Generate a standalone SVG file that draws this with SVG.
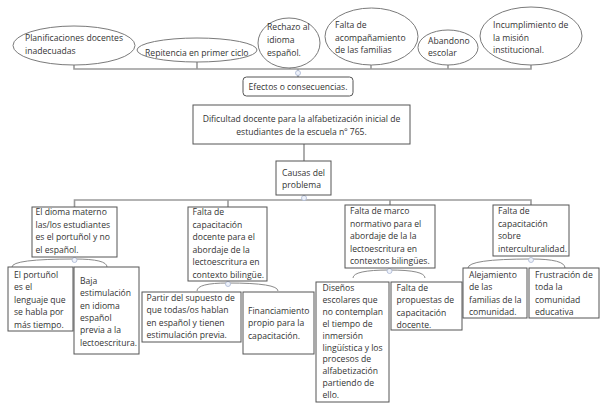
<svg xmlns="http://www.w3.org/2000/svg" width="608" height="411" viewBox="0 0 608 411">
<style>
text{font-family:"Open Sans","Noto Sans","Liberation Sans",sans-serif;font-size:8.6px;fill:#333}
.c{text-anchor:middle}
.ell{fill:#fff;stroke:#7a7a7a;stroke-width:1}
.box{fill:#fff;stroke:#555;stroke-width:1}
.bus{fill:none;stroke:#9a9a9a;stroke-width:1.6}
.cur{fill:none;stroke:#8a8a8a;stroke-width:1}
.dot{fill:#eef2fa;stroke:#aab6d3;stroke-width:0.8}
</style>
<rect width="608" height="411" fill="#fff"/>
<g id="connectors">
<path class="bus" d="M74,65 V69 H531 V65 M197,62 V69 M290,67 V69 M371,65 V69 M448,65 V69 M298,69 V77"/>
<path class="bus" d="M304,144 V161 M304,195 V200 M74.5,207 V200 H531 V205 M228,200 V207 M390,200 V205"/>
<path class="cur" d="M74.5,259 Q12,259 12,267 M74.5,259 Q107,259 107,267"/>
<path class="cur" d="M228,283 Q197,283 197,291 M228,283 Q278,283 278,291"/>
<path class="cur" d="M389.5,270 Q353,270 353,278 M389.5,270 Q425,270 425,278"/>
<path class="cur" d="M531,259 Q468,259 468,268 M531,259 Q565,259 565,268"/>
<circle class="dot" cx="298" cy="73" r="2.5"/>
<circle class="dot" cx="304" cy="198" r="2.5"/>
<circle class="dot" cx="74.5" cy="260" r="2.5"/>
<circle class="dot" cx="228" cy="284" r="2.5"/>
<circle class="dot" cx="389.5" cy="271" r="2.5"/>
<circle class="dot" cx="531" cy="260" r="2.5"/>
</g>
<g id="e1"><ellipse class="ell" cx="74" cy="45.5" rx="61" ry="19.5"/><text x="25" y="41">Planificaciones docentes</text><text x="25" y="53.5">inadecuadas</text></g>
<g id="e2"><ellipse class="ell" cx="197" cy="50" rx="60" ry="12"/><text x="145" y="55.5">Repitencia en primer ciclo</text></g>
<g id="e3"><ellipse class="ell" cx="289" cy="43" rx="31" ry="25"/><text x="267" y="30">Rechazo al</text><text x="267" y="42.5">idioma</text><text x="267" y="55.5">español.</text></g>
<g id="e4"><ellipse class="ell" cx="371.5" cy="36.5" rx="46.5" ry="28.5"/><text x="335" y="28">Falta de</text><text x="335" y="40.5">acompañamiento</text><text x="335" y="53">de las familias</text></g>
<g id="e5"><ellipse class="ell" cx="448" cy="47.5" rx="30" ry="17.5"/><text x="428" y="43.5">Abandono</text><text x="428" y="56">escolar</text></g>
<g id="e6"><ellipse class="ell" cx="531" cy="36" rx="51" ry="29"/><text x="493" y="28">Incumplimiento de</text><text x="493" y="40.5">la misión</text><text x="493" y="53">institucional.</text></g>
<g id="efectos"><rect class="box" x="243" y="77" width="110" height="19" rx="3.5"/><text class="c" x="298" y="89.5">Efectos o consecuencias.</text></g>
<g id="problema"><rect class="box" x="193" y="105" width="217" height="39"/><text class="c" x="301.5" y="121.5">Dificultad docente para la alfabetización inicial de</text><text class="c" x="301.5" y="134.5">estudiantes de la escuela nº 765.</text></g>
<g id="causas"><rect class="box" x="276" y="161" width="55" height="34"/><text x="282" y="175.5">Causas del</text><text x="282" y="188">problema</text></g>
<g id="c1"><rect class="box" x="32" y="207" width="85" height="50"/><text x="35.5" y="215">El dioma materno</text><text x="35.5" y="227.7">las/los estudiantes</text><text x="35.5" y="240.4">es el portuñol y no</text><text x="35.5" y="253">el español.</text></g>
<g id="c2"><rect class="box" x="188" y="207" width="79" height="74"/><text x="192.5" y="215">Falta de</text><text x="192.5" y="227.5">capacitación</text><text x="192.5" y="240">docente para el</text><text x="192.5" y="252.5">abordaje de la</text><text x="192.5" y="265">lectoescritura en</text><text x="192.5" y="277.5">contexto bilingüe.</text></g>
<g id="c3"><rect class="box" x="345" y="205" width="90" height="63"/><text x="350" y="214">Falta de marco</text><text x="350" y="226.5">normativo para el</text><text x="350" y="239">abordaje de la la</text><text x="350" y="251.5">lectoescritura en</text><text x="350" y="264">contextos bilingües.</text></g>
<g id="c4"><rect class="box" x="493" y="205" width="76" height="51"/><text x="498" y="214">Falta de</text><text x="498" y="226.5">capacitación</text><text x="498" y="239">sobre</text><text x="498" y="251.5">interculturalidad.</text></g>
<g id="s1"><rect class="box" x="8" y="267" width="65" height="64"/><text x="14" y="278">El portuñol</text><text x="14" y="290.4">es el</text><text x="14" y="302.8">lenguaje que</text><text x="14" y="315.2">se habla por</text><text x="14" y="327.6">más tiempo.</text></g>
<g id="s2"><rect class="box" x="74" y="267" width="65" height="87"/><text x="80" y="284">Baja</text><text x="80" y="296.3">estimulación</text><text x="80" y="308.6">en idioma</text><text x="80" y="320.9">español</text><text x="80" y="333.2">previa a la</text><text x="80" y="345.5">lectoescritura.</text></g>
<g id="s3"><rect class="box" x="142" y="292" width="99" height="50"/><text x="146.5" y="301">Partir del supuesto de</text><text x="146.5" y="313.4">que todas/os hablan</text><text x="146.5" y="325.8">en español y tienen</text><text x="146.5" y="338.2">estimulación previa.</text></g>
<g id="s4"><rect class="box" x="243" y="292" width="71" height="62"/><text x="248" y="314">Financiamiento</text><text x="248" y="326.4">propio para la</text><text x="248" y="338.8">capacitación.</text></g>
<g id="s5"><rect class="box" x="316" y="282" width="73" height="120"/><text x="322.5" y="291">Diseños</text><text x="322.5" y="302.9">escolares que</text><text x="322.5" y="314.8">no contemplan</text><text x="322.5" y="326.7">el tiempo de</text><text x="322.5" y="338.6">inmersión</text><text x="322.5" y="350.5">lingüística y los</text><text x="322.5" y="362.4">procesos de</text><text x="322.5" y="374.3">alfabetización</text><text x="322.5" y="386.2">partiendo de</text><text x="322.5" y="398.1">ello.</text></g>
<g id="s6"><rect class="box" x="391" y="282" width="71" height="48"/><text x="396.5" y="291">Falta de</text><text x="396.5" y="303.4">propuestas de</text><text x="396.5" y="315.8">capacitación</text><text x="396.5" y="328.2">docente.</text></g>
<g id="s7"><rect class="box" x="463" y="268" width="64" height="50"/><text x="469" y="278">Alejamiento</text><text x="469" y="290.4">de las</text><text x="469" y="302.8">familias de la</text><text x="469" y="315.2">comunidad.</text></g>
<g id="s8"><rect class="box" x="529" y="268" width="70" height="50"/><text x="535" y="278">Frustración de</text><text x="535" y="290.4">toda la</text><text x="535" y="302.8">comunidad</text><text x="535" y="315.2">educativa</text></g>
</svg>
